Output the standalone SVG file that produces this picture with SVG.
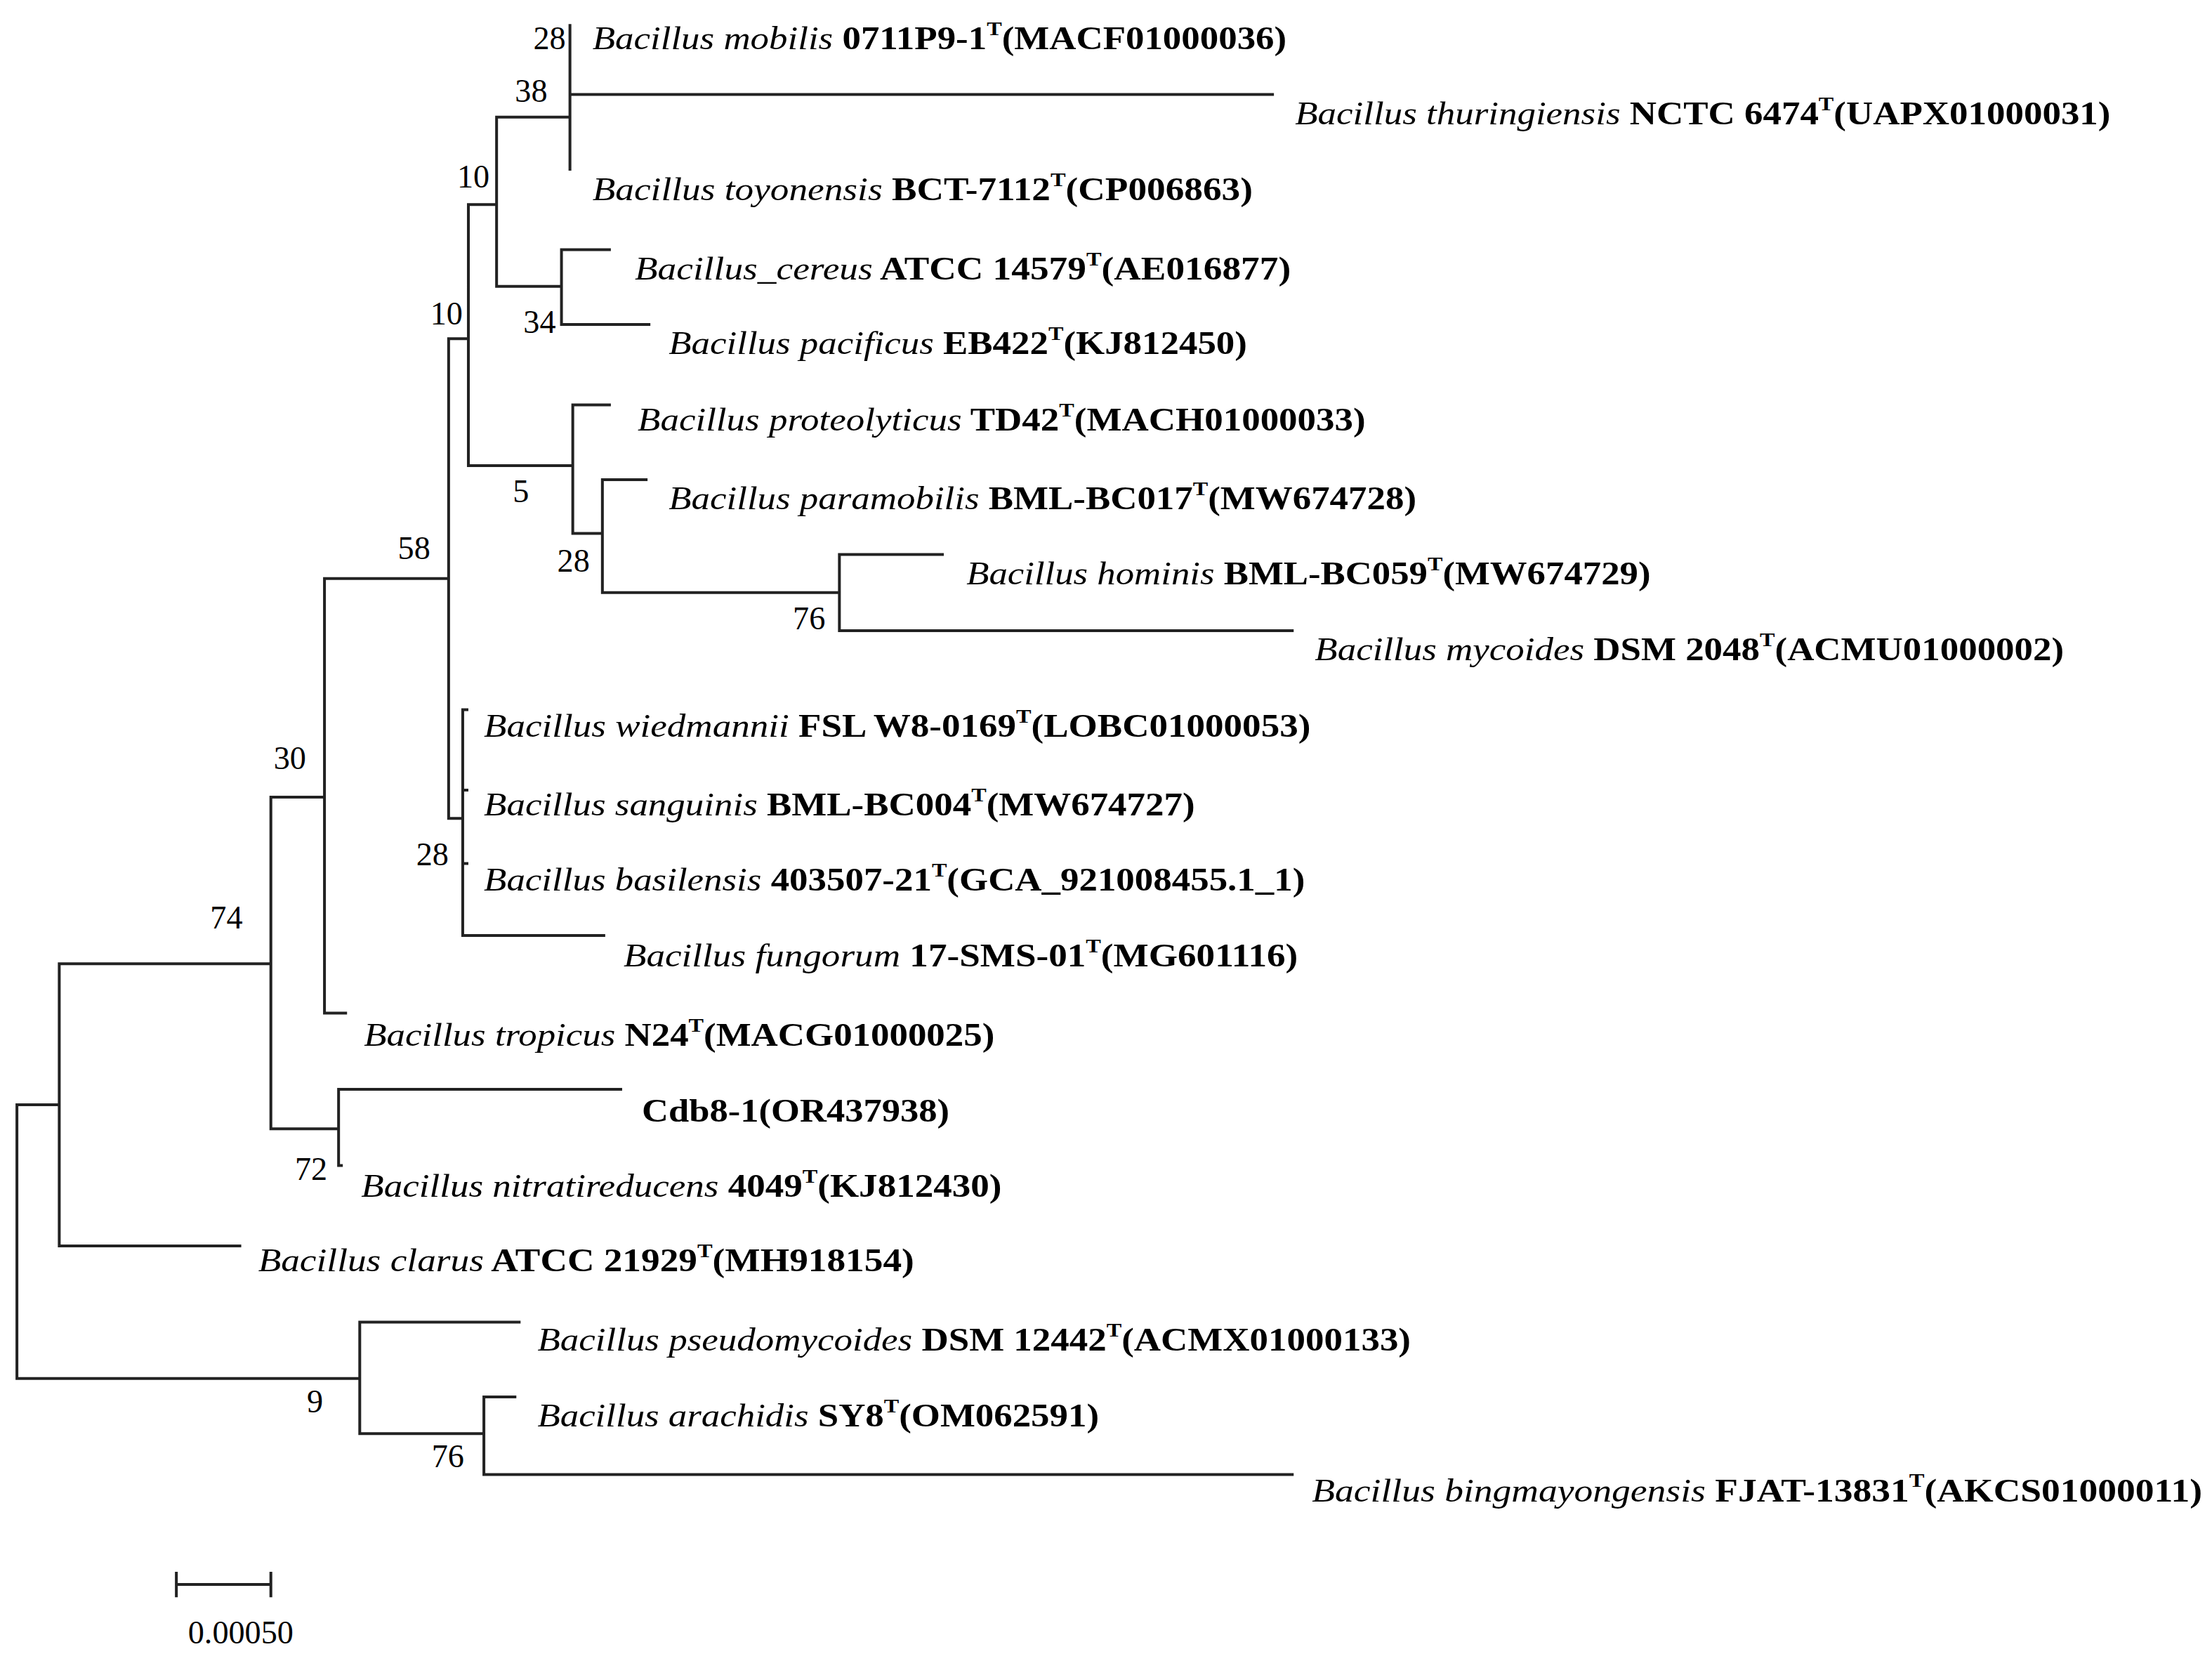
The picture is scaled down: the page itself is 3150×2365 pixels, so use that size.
<svg xmlns="http://www.w3.org/2000/svg" width="3150" height="2365" viewBox="0 0 3150 2365">
<style>
.b{fill:none;stroke:#222;stroke-width:2;stroke-linecap:square}
.t{font-family:"Liberation Serif","Times New Roman",serif;font-size:23px;fill:#000;font-weight:bold}
.t .i{font-style:italic;font-weight:normal}
.s{font-size:14px}
.n{font-family:"Liberation Serif","Times New Roman",serif;font-size:23px;fill:#000;text-anchor:end}
</style>
<rect width="3150" height="2365" fill="#fff"/>
<g transform="scale(2.009)">
<g id="connectors">
<path class="b" d="M12,783V977M12,783H42M12,977H255M42,683V883M42,683H192M42,883H170M192,565V800M192,565H230M192,800H240M240,772V826M240,772H440M240,826H242M230,410V718M230,410H318M230,718H245M318,240V580M318,240H332M318,580H328M328,503V663M328,503H331M328,560H331M328,612H331M328,663H428M332,145V330M332,145H352M332,330H406M352,83V203M352,83H404M352,203H398M404,18V120M404,67H902M398,177V230M398,177H432M398,230H460M406,287V378M406,287H432M406,378H427M427,340V420M427,340H458M427,420H595M595,393V447M595,393H668M595,447H916M255,937V1016M255,937H368M255,1016H343M343,990V1045M343,990H365M343,1045H916"/>
<path class="b" d="M125,1123H192M125,1115V1131M192,1115V1131"/>
</g>
<g id="leaves">
<text class="t" x="420" y="35" textLength="492" lengthAdjust="spacingAndGlyphs"><tspan class="i">Bacillus mobilis</tspan> 0711P9-1<tspan class="s" dy="-10">T</tspan><tspan dy="10">(MACF01000036)</tspan></text>
<text class="t" x="918" y="88" textLength="578" lengthAdjust="spacingAndGlyphs"><tspan class="i">Bacillus thuringiensis</tspan> NCTC 6474<tspan class="s" dy="-10">T</tspan><tspan dy="10">(UAPX01000031)</tspan></text>
<text class="t" x="420" y="142" textLength="468" lengthAdjust="spacingAndGlyphs"><tspan class="i">Bacillus toyonensis</tspan> BCT-7112<tspan class="s" dy="-10">T</tspan><tspan dy="10">(CP006863)</tspan></text>
<text class="t" x="450" y="198" textLength="465" lengthAdjust="spacingAndGlyphs"><tspan class="i">Bacillus_cereus</tspan> ATCC 14579<tspan class="s" dy="-10">T</tspan><tspan dy="10">(AE016877)</tspan></text>
<text class="t" x="474" y="251" textLength="410" lengthAdjust="spacingAndGlyphs"><tspan class="i">Bacillus pacificus</tspan> EB422<tspan class="s" dy="-10">T</tspan><tspan dy="10">(KJ812450)</tspan></text>
<text class="t" x="452" y="305" textLength="516" lengthAdjust="spacingAndGlyphs"><tspan class="i">Bacillus proteolyticus</tspan> TD42<tspan class="s" dy="-10">T</tspan><tspan dy="10">(MACH01000033)</tspan></text>
<text class="t" x="474" y="361" textLength="530" lengthAdjust="spacingAndGlyphs"><tspan class="i">Bacillus paramobilis</tspan> BML-BC017<tspan class="s" dy="-10">T</tspan><tspan dy="10">(MW674728)</tspan></text>
<text class="t" x="685" y="414" textLength="485" lengthAdjust="spacingAndGlyphs"><tspan class="i">Bacillus hominis</tspan> BML-BC059<tspan class="s" dy="-10">T</tspan><tspan dy="10">(MW674729)</tspan></text>
<text class="t" x="932" y="468" textLength="531" lengthAdjust="spacingAndGlyphs"><tspan class="i">Bacillus mycoides</tspan> DSM 2048<tspan class="s" dy="-10">T</tspan><tspan dy="10">(ACMU01000002)</tspan></text>
<text class="t" x="343" y="522" textLength="586" lengthAdjust="spacingAndGlyphs"><tspan class="i">Bacillus wiedmannii</tspan> FSL W8-0169<tspan class="s" dy="-10">T</tspan><tspan dy="10">(LOBC01000053)</tspan></text>
<text class="t" x="343" y="578" textLength="504" lengthAdjust="spacingAndGlyphs"><tspan class="i">Bacillus sanguinis</tspan> BML-BC004<tspan class="s" dy="-10">T</tspan><tspan dy="10">(MW674727)</tspan></text>
<text class="t" x="343" y="631" textLength="582" lengthAdjust="spacingAndGlyphs"><tspan class="i">Bacillus basilensis</tspan> 403507-21<tspan class="s" dy="-10">T</tspan><tspan dy="10">(GCA_921008455.1_1)</tspan></text>
<text class="t" x="442" y="685" textLength="478" lengthAdjust="spacingAndGlyphs"><tspan class="i">Bacillus fungorum</tspan> 17-SMS-01<tspan class="s" dy="-10">T</tspan><tspan dy="10">(MG601116)</tspan></text>
<text class="t" x="258" y="741" textLength="447" lengthAdjust="spacingAndGlyphs"><tspan class="i">Bacillus tropicus</tspan> N24<tspan class="s" dy="-10">T</tspan><tspan dy="10">(MACG01000025)</tspan></text>
<text class="t" x="455" y="795" textLength="218" lengthAdjust="spacingAndGlyphs">Cdb8-1(OR437938)</text>
<text class="t" x="256" y="848" textLength="454" lengthAdjust="spacingAndGlyphs"><tspan class="i">Bacillus nitratireducens</tspan> 4049<tspan class="s" dy="-10">T</tspan><tspan dy="10">(KJ812430)</tspan></text>
<text class="t" x="183" y="901" textLength="465" lengthAdjust="spacingAndGlyphs"><tspan class="i">Bacillus clarus</tspan> ATCC 21929<tspan class="s" dy="-10">T</tspan><tspan dy="10">(MH918154)</tspan></text>
<text class="t" x="381" y="957" textLength="619" lengthAdjust="spacingAndGlyphs"><tspan class="i">Bacillus pseudomycoides</tspan> DSM 12442<tspan class="s" dy="-10">T</tspan><tspan dy="10">(ACMX01000133)</tspan></text>
<text class="t" x="381" y="1011" textLength="398" lengthAdjust="spacingAndGlyphs"><tspan class="i">Bacillus arachidis</tspan> SY8<tspan class="s" dy="-10">T</tspan><tspan dy="10">(OM062591)</tspan></text>
<text class="t" x="930" y="1064" textLength="631" lengthAdjust="spacingAndGlyphs"><tspan class="i">Bacillus bingmayongensis</tspan> FJAT-13831<tspan class="s" dy="-10">T</tspan><tspan dy="10">(AKCS01000011)</tspan></text>
</g>
<g id="bootstrap">
<text class="n" x="401" y="35">28</text>
<text class="n" x="388" y="72">38</text>
<text class="n" x="347" y="133">10</text>
<text class="n" x="394" y="236">34</text>
<text class="n" x="328" y="230">10</text>
<text class="n" x="375" y="356">5</text>
<text class="n" x="418" y="405">28</text>
<text class="n" x="585" y="446">76</text>
<text class="n" x="305" y="396">58</text>
<text class="n" x="318" y="613">28</text>
<text class="n" x="217" y="545">30</text>
<text class="n" x="172" y="658">74</text>
<text class="n" x="232" y="836">72</text>
<text class="n" x="229" y="1001">9</text>
<text class="n" x="329" y="1040">76</text>
<text class="n" x="208" y="1165">0.00050</text>
</g>
</g>
</svg>
